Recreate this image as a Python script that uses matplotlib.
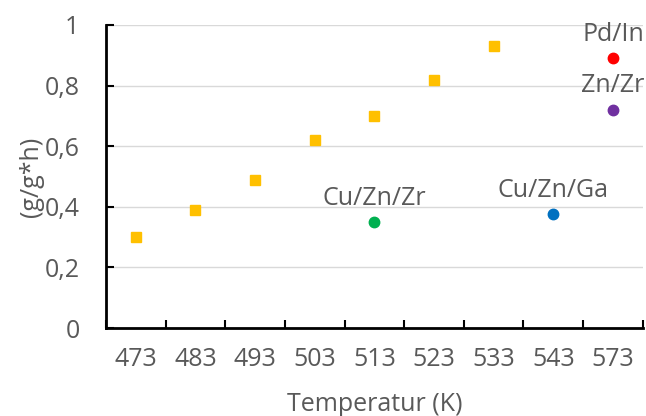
import matplotlib.pyplot as plt

# Kategorije na osi x (temperature u K)
categories = ["473", "483", "493", "503", "513", "523", "533", "543", "573"]

# Žuti kvadrati - niz mjerenja
series_temps = ["473", "483", "493", "503", "513", "523", "533"]
series_values = [0.30, 0.39, 0.49, 0.62, 0.70, 0.82, 0.93]

# Pojedinačni katalizatori
cat_labels = ["Cu/Zn/Zr", "Cu/Zn/Ga", "Zn/Zr", "Pd/In"]
cat_temps = ["513", "543", "573", "573"]
cat_values = [0.35, 0.375, 0.72, 0.89]
cat_colors = ["#00B050", "#0070C0", "#7030A0", "#FF0000"]

y_ticks = [0, 0.2, 0.4, 0.6, 0.8, 1.0]
y_ticklabels = ["0", "0,2", "0,4", "0,6", "0,8", "1"]

plt.rcParams["font.family"] = ["Open Sans", "DejaVu Sans"]
text_gray = "#595959"
fs = 18

fig = plt.figure(figsize=(6.46, 4.16), dpi=100)
ax = fig.add_axes([0.164, 0.2115, 0.831, 0.7285])

pos = {c: i for i, c in enumerate(categories)}

ax.plot([pos[t] for t in series_temps], series_values, linestyle="none",
        marker="s", markersize=6.5, color="#FFC000", zorder=3)

for lab, t, v, col in zip(cat_labels, cat_temps, cat_values, cat_colors):
    ax.plot(pos[t], v, linestyle="none", marker="o", markersize=7.5,
            color=col, zorder=3)
    ax.annotate(lab, (pos[t], v), xytext=(0, 12.5), textcoords="offset points",
                ha="center", va="baseline", fontsize=fs, color=text_gray,
                annotation_clip=False)

# Os x: kategorije
ax.set_xlim(-0.5, len(categories) - 0.5)
ax.set_xticks([i + 0.5 for i in range(-1, len(categories))])
ax.set_xticklabels([])
ax.set_xticks(range(len(categories)), minor=True)
ax.set_xticklabels(categories, minor=True)
ax.tick_params(axis="x", which="major", direction="in", length=6, width=1.5,
               color="black")
ax.tick_params(axis="x", which="minor", length=0, pad=14, labelsize=fs,
               labelcolor=text_gray)

# Os y
ax.set_ylim(0, 1)
ax.set_yticks(y_ticks)
ax.set_yticklabels(y_ticklabels)
ax.tick_params(axis="y", direction="in", length=6, width=1.5, pad=19,
               labelsize=fs, labelcolor=text_gray)
ax.yaxis.grid(True, color="#D9D9D9", linewidth=1)
ax.set_axisbelow(True)

for s in ["top", "right"]:
    ax.spines[s].set_visible(False)
for s in ["left", "bottom"]:
    ax.spines[s].set_linewidth(2)
    ax.spines[s].set_color("black")

ax.set_xlabel("Temperatur (K)", fontsize=fs, color=text_gray, labelpad=14)
ax.set_ylabel("(g/g*h)", fontsize=fs, color=text_gray, labelpad=0)

fig.savefig("out.png", dpi=100)
